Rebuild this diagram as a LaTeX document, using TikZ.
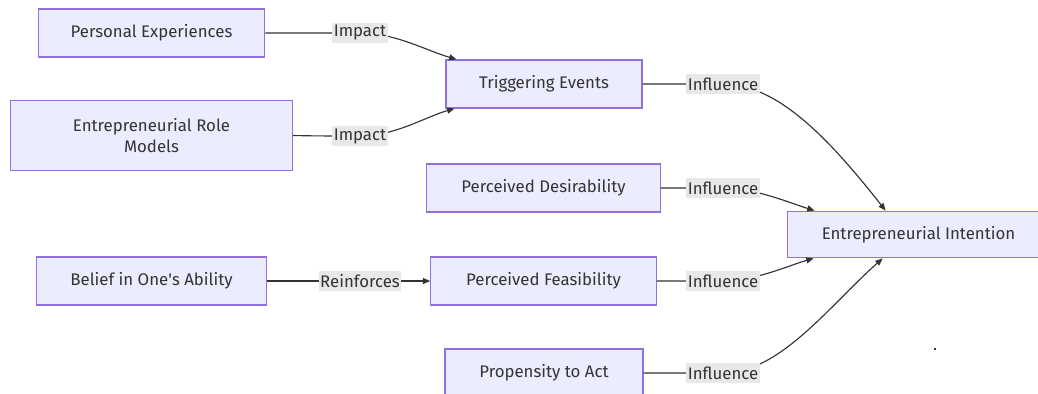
\documentclass[tikz,border=0pt]{standalone}
\usepackage{fontspec}
\setmainfont{Fira Sans}
\usetikzlibrary{arrows.meta,calc}
\definecolor{boxfill}{HTML}{ECECFF}
\definecolor{boxline}{HTML}{9370DB}
\definecolor{ink}{HTML}{333333}
\definecolor{tagfill}{HTML}{E8E8E8}
\tikzset{
  concept/.style={draw=boxline, line width=0.9pt, fill=boxfill, text=ink,
    minimum height=36pt, inner sep=0pt, align=center,
    font=\fontsize{12.6}{15.75}\selectfont},
  tag/.style={fill=tagfill, text=ink, inner sep=1pt, minimum height=15.5pt,
    font=\fontsize{12.6}{13}\selectfont},
  link/.style={draw=ink, line width=0.85pt, -{Triangle[length=5.5pt,width=4.5pt]}}
}
\begin{document}
\begin{tikzpicture}[x=0.75pt,y=-0.75pt]
\clip (0,0) rectangle (1038,393);
\fill[white] (0,0) rectangle (1038,393);

% concept boxes
\node[concept, minimum width=170pt] (pe) at (151.5,33) {Personal Experiences};
\node[concept, minimum width=211pt, minimum height=52pt] (rm) at (151.5,135.5) {Entrepreneurial Role\\Models};
\node[concept, minimum width=147pt] (te) at (544,84) {Triggering Events};
\node[concept, minimum width=175pt] (pd) at (543.5,188) {Perceived Desirability};
\node[concept, minimum width=172pt] (ba) at (151.5,281) {Belief in One\textquotesingle s Ability};
\node[concept, minimum width=169pt] (pf) at (543.5,281) {Perceived Feasibility};
\node[concept, minimum width=148.5pt] (pa) at (544,373) {Propensity to Act};
\node[concept, minimum width=197pt, minimum height=35pt] (ei) at (918.5,234.5) {Entrepreneurial Intention};

% label positions on the connectors
\coordinate (c1) at (360,33);
\coordinate (c2) at (360,136);
\coordinate (c3) at (723,84);
\coordinate (c4) at (723,188);
\coordinate (c5) at (723,281);
\coordinate (c6) at (723,373);
\coordinate (c7) at (360,281);

% arrow end points on the target borders
\coordinate (t1) at ($(te.north west)+(11,0)$);
\coordinate (t2) at ($(te.south west)+(9,0)$);
\coordinate (t3) at ($(ei.north west)+(99,0)$);
\coordinate (t4) at ($(ei.north west)+(28,0)$);
\coordinate (t5) at ($(ei.south west)+(27,0)$);
\coordinate (t6) at ($(ei.south west)+(96,0)$);

% connectors
\draw[link] (pe.east) .. controls (300,33) and (330,33) .. (c1)
  .. controls (395,33) and (425,50) .. (t1);
\draw[link] (rm.east) .. controls (315,136) and (335,136) .. (c2)
  .. controls (395,136) and (425,117) .. (t2);
\draw[link] (te.east) .. controls (670,84) and (700,84) .. (c3)
  .. controls (778,84) and (830,140) .. (t3);
\draw[link] (pd.east) .. controls (680,188) and (700,188) .. (c4)
  .. controls (755,188) and (790,203) .. (t4);
\draw[link] (pf.east) .. controls (680,281) and (700,281) .. (c5)
  .. controls (755,281) and (790,265) .. (t5);
\draw[link] (pa.east) .. controls (670,373) and (700,373) .. (c6)
  .. controls (780,373) and (830,305) .. (t6);
\draw[link] (ba.east) -- (c7) -- (pf.west);

% connector labels
\node[tag] (l1) at (c1) {Impact};
\node[tag] (l2) at (c2) {Impact};
\node[tag] (l3) at (c3) {Influence};
\node[tag] (l4) at (c4) {Influence};
\node[tag] (l5) at (c5) {Influence};
\node[tag] (l6) at (c6) {Influence};
\node[tag] (l7) at (c7) {Reinforces};

% small stray mark
\fill[ink] (934,348) rectangle (936,350);
\end{tikzpicture}
\end{document}
